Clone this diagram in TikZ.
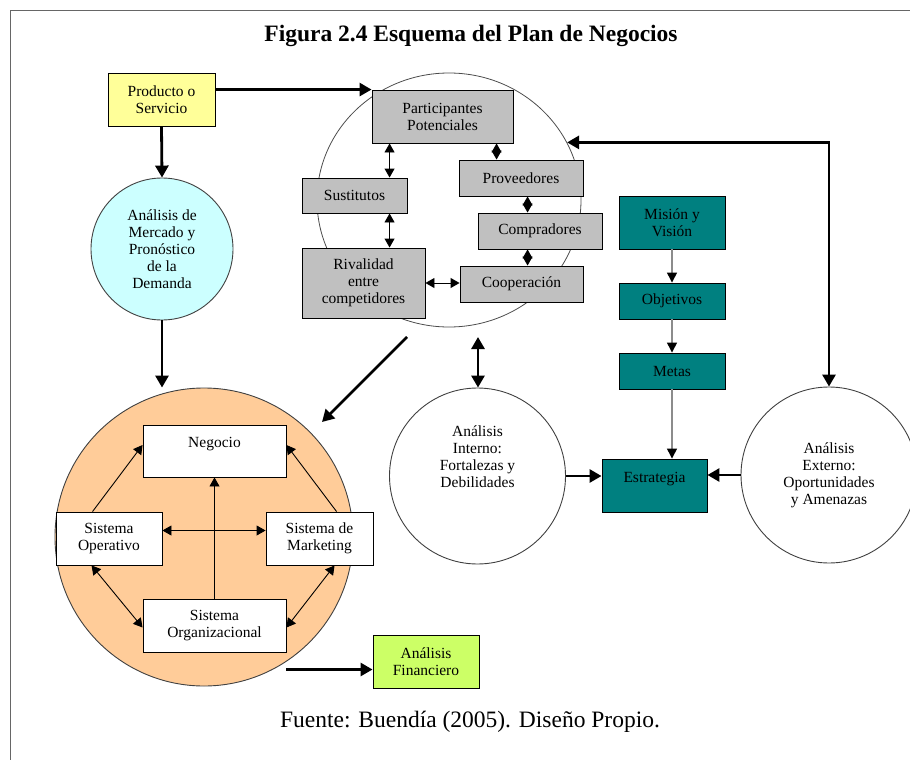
\documentclass[tikz,border=0pt]{standalone}
\usepackage{fontspec}
\setmainfont{Liberation Serif}
\usepackage{tikz}
\usetikzlibrary{positioning,calc,arrows.meta,shapes.geometric}
\definecolor{prodc}{RGB}{255,255,153}
\definecolor{mercc}{RGB}{204,255,255}
\definecolor{porterc}{RGB}{192,192,192}
\definecolor{estrc}{RGB}{0,128,128}
\definecolor{empc}{RGB}{255,204,153}
\definecolor{finc}{RGB}{204,255,102}

\begin{document}
\begin{tikzpicture}[x=1pt,y=-1pt]
\tikzstyle{txt}=[font=\fontsize{15.5}{17}\selectfont,align=center,inner sep=0pt];
\tikzstyle{caja}=[txt,rectangle,draw=black,line width=0.9pt];
\tikzstyle{circ}=[txt,circle,draw=black!75,line width=0.9pt];
\tikzstyle{arriba}=[text height=19pt,text depth=26pt];
\tikzstyle{gruesa}=[line width=2.8pt,-{Triangle[length=12pt,width=13pt]}];
\tikzstyle{gruesad}=[line width=2.8pt,{Triangle[length=12pt,width=13pt]}-{Triangle[length=12pt,width=13pt]}];
\tikzstyle{flechas}=[line width=0.9pt,-{Triangle[length=9pt,width=10pt]}];
\tikzstyle{flechad}=[line width=0.9pt,{Triangle[length=9pt,width=10pt]}-{Triangle[length=9pt,width=10pt]}];
\tikzstyle{gris}=[line width=1.3pt,draw=black!45,-{Triangle[length=10pt,width=10pt,color=black]}];

\useasboundingbox (0,0) rectangle (910,760);
\draw[black!60,line width=0.8pt] (10,760) -- (10,10) -- (910,10);

\node[font=\fontsize{23.5}{28}\selectfont\bfseries,anchor=base] (titulo) at (471,42) {Figura 2.4 Esquema del Plan de Negocios};

% producto y mercado
\begin{scope}
        \node[caja,fill=prodc,minimum width=107pt,minimum height=53pt] (prod) at (161.5,99.5) {Producto o\\Servicio};
        \node[circ,fill=mercc,minimum size=142pt] (mercado) at (162,249) {Análisis de\\Mercado y\\Pronóstico\\de la\\Demanda};
\end{scope}

% fuerzas
\begin{scope}
        \node[ellipse,draw=black!70,line width=0.8pt,minimum width=264pt,minimum height=254pt,inner sep=0pt] (porter) at (449,200) {};
        \node[caja,fill=porterc,minimum width=141pt,minimum height=53pt] (partic) at (442.5,116.5) {Participantes\\Potenciales};
        \node[caja,fill=porterc,minimum width=105pt,minimum height=35pt] (sust) at (354.5,195.5) {Sustitutos};
        \node[caja,fill=porterc,minimum width=124pt,minimum height=36pt] (prov) at (521,178) {Proveedores};
        \node[caja,fill=porterc,minimum width=124pt,minimum height=36pt] (compr) at (540,231) {Compradores};
        \node[caja,fill=porterc,minimum width=123pt,minimum height=70pt] (rival) at (363.5,283) {Rivalidad\\entre\\competidores};
        \node[caja,fill=porterc,minimum width=123pt,minimum height=36pt] (coop) at (521.5,284) {Cooperación};
\end{scope}

% estrategia
\begin{scope}
        \node[caja,fill=estrc,minimum width=106pt,minimum height=53pt] (mision) at (672,222.5) {Misión y\\Visión};
        \node[caja,fill=estrc,minimum width=106pt,minimum height=36pt] (objet) at (672,301) {Objetivos};
        \node[caja,fill=estrc,minimum width=106pt,minimum height=36pt] (metas) at (672,371) {Metas};
        \node[caja,fill=estrc,arriba,minimum width=105pt,minimum height=53pt] (estr) at (654.5,485.5) {Estrategia};
        \node[circ,minimum size=176pt] (interno) at (477.5,476) {};
        \node[txt] (internotxt) at ([yshift=19pt]interno.center) {Análisis\\Interno:\\Fortalezas y\\Debilidades};
        \node[circ,minimum size=176pt] (externo) at (829,475) {Análisis\\Externo:\\Oportunidades\\y Amenazas};
\end{scope}

% empresa
\begin{scope}
        \node[circ,fill=empc,minimum size=298pt] (empresa) at (204,537) {};
        \node[caja,fill=white,arriba,minimum width=143pt,minimum height=52pt] (negocio) at (214.5,451) {Negocio};
        \node[caja,fill=white,minimum width=106pt,minimum height=53pt] (oper) at (109,538.5) {Sistema\\Operativo};
        \node[caja,fill=white,minimum width=107pt,minimum height=53pt] (mark) at (319.5,538.5) {Sistema de\\Marketing};
        \node[caja,fill=white,minimum width=143pt,minimum height=53pt] (org) at (214.5,625.5) {Sistema\\Organizacional};
        \node[caja,fill=finc,minimum width=106pt,minimum height=53pt] (fin) at (426,661.5) {Análisis\\Financiero};
\end{scope}

\node[font=\fontsize{23.5}{28}\selectfont,anchor=base] (fuente) at (470,727) {Fuente: Buendía (2005). Diseño Propio.};

% conectores gruesos
\coordinate (diaga) at (407,337);
\coordinate (diagb) at (322,422);
\coordinate (porterb) at (478,337);
\coordinate (finin) at ([yshift=-8pt]fin.west);
\draw[gruesa] (prod.east |- partic.north west) -- (partic.north west);
\draw[gruesa] (prod.south) -- (mercado.north);
\draw[gruesa] (mercado.south) -- (mercado.south |- empresa.north);
\draw[gruesa] (diaga) -- (diagb);
\draw[gruesad] (porterb) -- (porterb |- interno.north);
\draw[gruesad] (porter.26) -- (porter.26 -| externo.north) -- (externo.north);
\draw[gruesa] (interno.east) -- (interno.east -| estr.west);
\draw[gruesa] (externo.west) -- (externo.west -| estr.east);
\draw[gruesa] (finin -| org.east) -- (finin);

% conectores de las fuerzas
\draw[flechad] ([xshift=18pt]partic.south west) -- ([xshift=88pt]sust.north west);
\draw[flechad] ([xshift=88pt]sust.south west) -- ([xshift=88pt]rival.north west);
\draw[flechad] ([xshift=125pt]partic.south west) -- ([xshift=38pt]prov.north west);
\draw[flechad] ([xshift=69pt]prov.south west) -- ([xshift=50pt]compr.north west);
\draw[flechad] ([xshift=50pt]compr.south west) -- ([xshift=68pt]coop.north west);
\draw[flechad] (rival.east) -- (rival.east -| coop.west);

% cadena de la estrategia
\draw[gris] (mision) -- (objet);
\draw[gris] (objet) -- (metas);
\draw[gris] (metas.south) -- (metas.south |- estr.north);

% sistemas de la empresa
\draw[flechas] (org.north) -- (org.north |- negocio.south);
\draw[flechad] ([yshift=8pt]oper.east) -- ([yshift=8pt]mark.west);
\draw[flechas] ([xshift=37pt]oper.north west) -- ([yshift=6pt]negocio.west);
\draw[flechas] ([xshift=71pt]mark.north west) -- ([yshift=6pt]negocio.east);
\draw[flechad] ([xshift=36pt]oper.south west) -- ([yshift=-2pt]org.west);
\draw[flechad] ([xshift=69pt]mark.south west) -- ([yshift=-2pt]org.east);

\end{tikzpicture}
\end{document}
